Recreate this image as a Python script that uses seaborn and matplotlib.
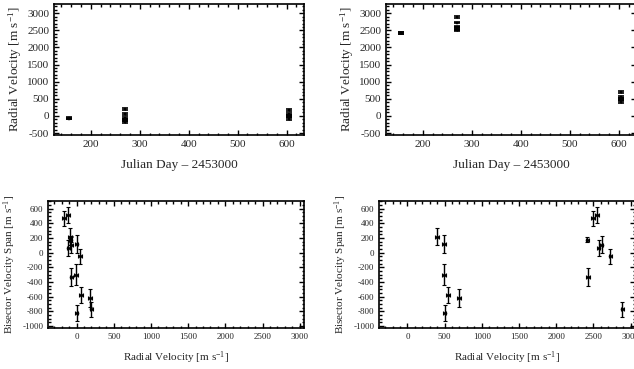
import numpy as np
import pandas as pd
import matplotlib
matplotlib.use('Agg')
import matplotlib.pyplot as plt
import seaborn as sns
from matplotlib.ticker import MultipleLocator

# Observations (JD - 2453000), corrected RV, raw RV, bisector span, errors
jd = [155, 155, 270, 270, 270, 270, 270, 270, 604, 604, 604, 604, 604, 604]
rv_corr = [-80, -70, -170, -120, -110, -70, 50, 200, -90, 0, -10, 60, 0, 180]
rv_raw = [2420, 2430, 2500, 2550, 2570, 2610, 2730, 2890, 400, 490, 490, 550, 500, 690]
rv_err = [20, 25, 25, 25, 25, 25, 25, 25, 25, 25, 25, 25, 25, 25]
bvs = [180, -330, 470, 510, 60, 110, -50, -770, 220, 120, -300, -580, -820, -620]
bvs_err = [40, 120, 100, 110, 110, 120, 100, 100, 120, 120, 140, 110, 110, 120]

df = pd.DataFrame({'jd': jd, 'rv_corr': rv_corr, 'rv_raw': rv_raw,
                   'rv_err': rv_err, 'bvs': bvs, 'bvs_err': bvs_err})

sns.set_style('ticks')
plt.rcParams['font.family'] = ['Liberation Serif', 'DejaVu Serif']
plt.rcParams['mathtext.default'] = 'regular'
plt.rcParams['axes.unicode_minus'] = False
plt.rcParams['axes.linewidth'] = 1.2

fig = plt.figure(figsize=(6.34, 3.69), dpi=100)
ax_tl = fig.add_axes([0.0852, 0.634, 0.394, 0.355])
ax_tr = fig.add_axes([0.609, 0.634, 0.394, 0.355])
ax_bl = fig.add_axes([0.0762, 0.1103, 0.403, 0.346])
ax_br = fig.add_axes([0.598, 0.1103, 0.403, 0.346])


def style_axes(ax, tick_size):
    ax.tick_params(which='both', direction='in', top=True, right=True,
                   labelsize=tick_size, color='black', width=1.0)
    ax.tick_params(which='major', length=3.5)
    ax.tick_params(which='minor', length=1.8)
    for s in ax.spines.values():
        s.set_color('black')


# Top row: RV vs time
for ax, col in [(ax_tl, 'rv_corr'), (ax_tr, 'rv_raw')]:
    ax.errorbar(df['jd'], df[col], yerr=df['rv_err'], fmt='none',
                ecolor='black', elinewidth=1.0, capsize=2.2, capthick=1.2)
    sns.scatterplot(data=df, x='jd', y=col, ax=ax, marker='s', s=3,
                    color='black', edgecolor='black', linewidth=0.3)
    ax.set_xlim(125, 635)
    ax.set_ylim(-560, 3270)
    ax.xaxis.set_major_locator(MultipleLocator(100))
    ax.xaxis.set_minor_locator(MultipleLocator(20))
    ax.yaxis.set_major_locator(MultipleLocator(500))
    ax.yaxis.set_minor_locator(MultipleLocator(100))
    ax.set_xlabel('Julian Day \u2013 2453000', fontsize=9.5, labelpad=7)
    ax.set_ylabel('Radial Velocity [m s$^{-1}$]', fontsize=9.5, labelpad=2)
    style_axes(ax, 8)

# Bottom row: BVS vs RV
for ax, col in [(ax_bl, 'rv_corr'), (ax_br, 'rv_raw')]:
    ax.errorbar(df[col], df['bvs'], xerr=df['rv_err'], yerr=df['bvs_err'],
                fmt='none', ecolor='black', elinewidth=1.0, capsize=1.5,
                capthick=0.8)
    sns.scatterplot(data=df, x=col, y='bvs', ax=ax, marker='o', s=5,
                    color='black', edgecolor='black', linewidth=0.3)
    ax.set_xlim(-380, 3055)
    ax.set_ylim(-1030, 710)
    ax.xaxis.set_major_locator(MultipleLocator(500))
    ax.xaxis.set_minor_locator(MultipleLocator(100))
    ax.yaxis.set_major_locator(MultipleLocator(200))
    ax.yaxis.set_minor_locator(MultipleLocator(50))
    ax.set_xlabel('Radial Velocity [m s$^{-1}$]', fontsize=8, labelpad=6)
    ax.set_ylabel('Bisector Velocity Span [m s$^{-1}$]', fontsize=8, labelpad=3)
    style_axes(ax, 6.5)

fig.savefig('out.png', dpi=100)
